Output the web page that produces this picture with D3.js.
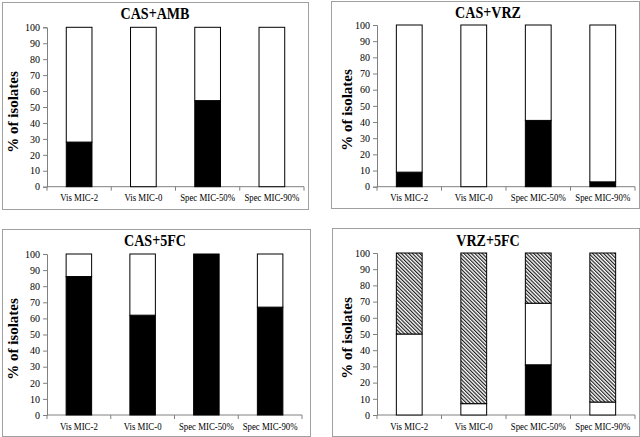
<!DOCTYPE html>
<html><head><meta charset="utf-8">
<script src="https://cdn.jsdelivr.net/npm/d3@7"></script>
<style>body{margin:0;background:#fff}svg{display:block}</style>
</head><body>
<svg id="c" width="640" height="437" font-family="'Liberation Serif', 'Times New Roman', Times, serif"></svg>
<script>
const categories = ["Vis MIC-2","Vis MIC-0","Spec MIC-50%","Spec MIC-90%"];
const titles = ["CAS+AMB","CAS+VRZ","CAS+5FC","VRZ+5FC"];
const yTicks = [0,10,20,30,40,50,60,70,80,90,100];
// black segment (bottom)
const blackAMB = [28,0,54,0];
const blackVRZ = [9,0,41,3];
const black5FC = [86,62,100,67];
const blackVRZ5FC = [0,0,31,0];
// white segment (middle)
const whiteAMB = [72,100,46,100];
const whiteVRZ = [91,100,59,97];
const white5FC = [14,38,0,33];
const whiteVRZ5FC = [50,7,38,8];
// hatched segment (top)
const hatchAMB = [0,0,0,0];
const hatchVRZ = [0,0,0,0];
const hatch5FC = [0,0,0,0];
const hatchVRZ5FC = [50,93,31,92];

const FONT = "'Liberation Serif', 'Times New Roman', Times, serif";

const panels = [
  {title:titles[0], black:blackAMB, white:whiteAMB, hatch:hatchAMB,
   box:[2.5,2.5,308.5,209.5], x0:47, x1:304, yTop:27.3, yBot:186.7, tx:155, ty:19.3, lx:13, ly:112},
  {title:titles[1], black:blackVRZ, white:whiteVRZ, hatch:hatchVRZ,
   box:[331.5,1.5,639.5,208.5], x0:377, x1:635, yTop:25, yBot:186.7, tx:488, ty:17.5, lx:347, ly:110},
  {title:titles[2], black:black5FC, white:white5FC, hatch:hatch5FC,
   box:[2.5,229.5,310.5,436.5], x0:47, x1:302, yTop:254, yBot:415, tx:155, ty:246, lx:13, ly:339},
  {title:titles[3], black:blackVRZ5FC, white:whiteVRZ5FC, hatch:hatchVRZ5FC,
   box:[332.5,228.5,639.5,436.5], x0:377, x1:635, yTop:253, yBot:415, tx:488, ty:245.7, lx:347, ly:338}
];

const svg = d3.select("#c");
const defs = svg.append("defs");
const pat = defs.append("pattern").attr("id","hatch").attr("patternUnits","userSpaceOnUse")
  .attr("width",2.6).attr("height",2.6).attr("patternTransform","rotate(-45)");
pat.append("rect").attr("width",2.6).attr("height",2.6).attr("fill","#fff");
pat.append("line").attr("x1",0.6).attr("y1",0).attr("x2",0.6).attr("y2",2.6)
  .attr("stroke","#111").attr("stroke-width",1.1);

panels.forEach(p => {
  const g = svg.append("g");
  const [bx0,by0,bx1,by1] = p.box;
  g.append("rect").attr("x",bx0).attr("y",by0).attr("width",bx1-bx0).attr("height",by1-by0)
    .attr("fill","#fff").attr("stroke","#a0a0a0").attr("stroke-width",1);

  const x = d3.scaleBand().domain(categories).range([p.x0,p.x1]).padding(0);
  const y = d3.scaleLinear().domain([0,100]).range([p.yBot,p.yTop]);

  // y axis
  const ya = g.append("g").attr("transform",`translate(${p.x0},0)`)
    .call(d3.axisLeft(y).tickValues(yTicks).tickSize(4).tickPadding(3));
  ya.attr("font-family",FONT);
  ya.select(".domain").attr("stroke","#808080");
  ya.selectAll(".tick line").attr("stroke","#808080");
  ya.selectAll(".tick text").attr("font-size",10).attr("fill","#000");

  // x axis: ticks at category boundaries
  const xa = g.append("g").attr("transform",`translate(0,${p.yBot})`);
  xa.append("line").attr("x1",p.x0).attr("x2",p.x1).attr("stroke","#808080");
  const bounds = categories.map(c=>x(c)).concat([p.x1]);
  xa.selectAll("line.t").data(bounds).join("line").attr("class","t")
    .attr("x1",d=>d).attr("x2",d=>d).attr("y1",0).attr("y2",4).attr("stroke","#808080");
  xa.selectAll("text").data(categories).join("text")
    .attr("transform",d=>`translate(${x(d)+x.bandwidth()/2},14.5) scale(0.88,1)`)
    .attr("text-anchor","middle").attr("font-size",10).text(d=>d);

  // stacked bars
  const bw = x.bandwidth()*0.4;
  categories.forEach((c,i) => {
    const segs = [
      {v0:0, v1:p.black[i], fill:"#000"},
      {v0:p.black[i], v1:p.black[i]+p.white[i], fill:"#fff"},
      {v0:p.black[i]+p.white[i], v1:p.black[i]+p.white[i]+p.hatch[i], fill:"url(#hatch)"}
    ];
    segs.forEach(s => {
      g.append("rect").attr("x",x(c)+x.bandwidth()*0.3).attr("width",bw)
        .attr("y",y(s.v1)).attr("height",Math.max(0,y(s.v0)-y(s.v1)))
        .attr("fill",s.fill).attr("stroke","#000").attr("stroke-width",1);
    });
  });

  // title
  g.append("text").attr("transform",`translate(${p.tx},${p.ty}) scale(0.88,1)`)
    .attr("text-anchor","middle").attr("font-size",16).attr("font-weight","bold").text(p.title);
  // y label
  g.append("text").attr("transform",`translate(${p.lx+5},${p.ly}) rotate(-90)`)
    .attr("text-anchor","middle").attr("font-size",15).attr("font-weight","bold").text("% of isolates");
});
</script>
</body></html>
